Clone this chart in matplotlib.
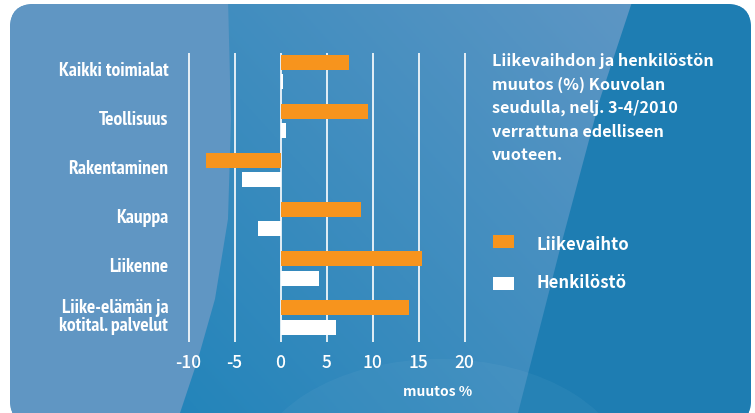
"""Liikevaihdon ja henkilöstön muutos (%) Kouvolan seudulla, nelj. 3-4/2010."""
import numpy as np
import matplotlib
matplotlib.use("Agg")
import matplotlib.pyplot as plt
from matplotlib.patches import FancyBboxPatch, Polygon, Rectangle, Ellipse

CATEGORIES = ["Kaikki toimialat", "Teollisuus", "Rakentaminen", "Kauppa",
              "Liikenne", "Liike-elämän ja\nkotital. palvelut"]
LIIKEVAIHTO = [7.4, 9.5, -8.1, 8.7, 15.4, 13.9]
HENKILOSTO = [0.3, 0.6, -4.2, -2.5, 4.2, 6.0]
XTICKS = [-10, -5, 0, 5, 10, 15, 20]
SERIES = ["Liikevaihto", "Henkilöstö"]
TITLE = ("Liikevaihdon ja henkilöstön\nmuutos (%) Kouvolan\nseudulla, nelj. 3-4/2010\n"
         "verrattuna edelliseen\nvuoteen.")
XLABEL = "muutos %"

ORANGE = "#f7941d"
WHITE = "#ffffff"
NARROW = ["PT Sans Narrow", "DejaVu Sans"]
BODY = ["Noto Sans CJK JP", "DejaVu Sans"]

W, H = 755, 414
fig = plt.figure(figsize=(W / 100, H / 100), dpi=100)

# ---- background panel (pixel coordinates) ----
bg = fig.add_axes([0, 0, 1, 1])
bg.set_xlim(0, W)
bg.set_ylim(H, 0)
bg.axis("off")
panel = FancyBboxPatch((10, 5), 741, 420, boxstyle="round,pad=0,rounding_size=24",
                       facecolor="#4a8dbf", edgecolor="none")
bg.add_patch(panel)

# soft diagonal gradient in the middle band
gx = np.linspace(0, 1, 200)
gy = np.linspace(0, 1, 120)
GX, GY = np.meshgrid(gx, gy)
t = np.clip(0.55 * GX + 0.45 * (1 - GY), 0, 1)
c0 = np.array([0.14, 0.52, 0.73])
c1 = np.array([0.37, 0.59, 0.77])
img = c0 + (c1 - c0) * t[..., None]
im = bg.imshow(img, extent=(180, 640, H, 0), aspect="auto", zorder=1)
im.set_clip_path(panel)

left = Polygon([(0, 0), (228, 0), (231, 120), (228, 220), (215, 300), (198, 360),
                (180, H), (0, H)], closed=True, facecolor="#6096c3",
               edgecolor="none", zorder=2)
bg.add_patch(left)
left.set_clip_path(panel)

right = Polygon([(633, 0), (W, 0), (W, H), (518, H), (560, 250), (600, 100)],
                closed=True, facecolor="#1e7db2", edgecolor="none", zorder=2)
bg.add_patch(right)
right.set_clip_path(panel)

glow = Ellipse((440, 480), 380, 240, facecolor="white", alpha=0.04,
               edgecolor="none", zorder=3)
bg.add_patch(glow)
glow.set_clip_path(panel)

# ---- chart ----
ax = fig.add_axes([179.3 / W, 71 / H, 294.7 / W, 289 / H])
ax.patch.set_alpha(0)
pos = np.arange(len(CATEGORIES))
ax.barh(pos - 0.196, LIIKEVAIHTO, height=0.306, color=ORANGE, zorder=3)
ax.barh(pos + 0.196, HENKILOSTO, height=0.306, color=WHITE, zorder=3)

ax.set_xlim(-11, 21)
ax.set_ylim(5.5, -0.39)
ax.set_xticks(XTICKS)
ax.set_xticklabels([str(v) for v in XTICKS], color="white", fontsize=12.5,
                   fontweight="medium", family=BODY)
ax.tick_params(axis="x", length=0, pad=8)
ax.set_yticks(pos - 0.08)
ax.set_yticklabels(CATEGORIES, color="white", fontsize=14, fontweight="bold",
                   family=NARROW, linespacing=1.0)
ax.tick_params(axis="y", length=0, pad=8)
ax.grid(axis="x", color="white", linewidth=1.2, zorder=1)
ax.set_axisbelow(True)
for s in ax.spines.values():
    s.set_visible(False)

bg.text(438, 396.5, XLABEL, color="white", fontsize=10, fontweight="bold",
        family=BODY, ha="center", va="baseline", zorder=5)

# ---- caption and legend ----
# multi-line "baseline" alignment anchors the last line
bg.text(492, 160, TITLE, color="white", fontsize=11.7, fontweight="bold",
        family=BODY, ha="left", va="baseline", linespacing=1.56, zorder=5)

for name, col, yc, base in zip(SERIES, [ORANGE, WHITE], [242.5, 284.5], [250, 288]):
    bg.add_patch(Rectangle((493, yc - 6.5), 21, 13, facecolor=col, edgecolor="none", zorder=5))
    bg.text(536, base, name, color="white", fontsize=12, fontweight="bold",
            family=BODY, ha="left", va="baseline", zorder=5)

fig.savefig("out.png", dpi=100, facecolor="white")
